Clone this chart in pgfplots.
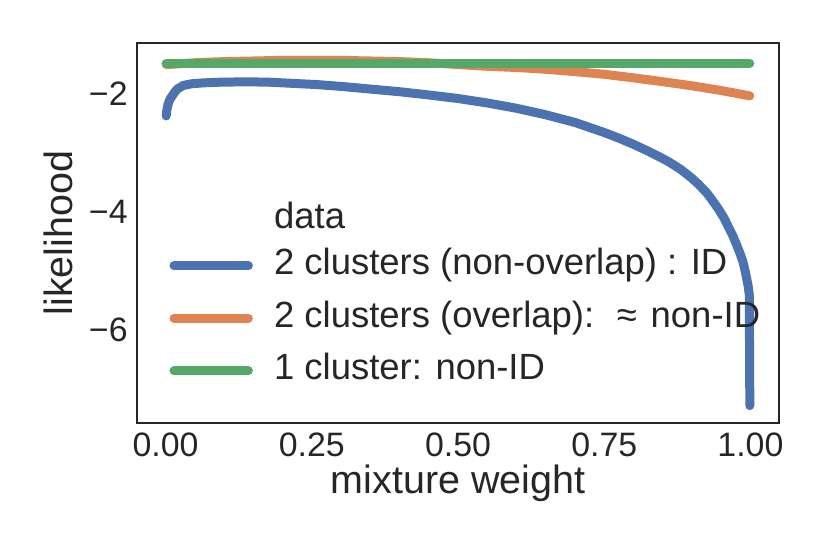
\documentclass[border=0pt]{standalone}
\usepackage{pgfplots}
\pgfplotsset{compat=1.18}
\usepackage{fontspec}
\setmainfont{Liberation Sans}
\definecolor{textc}{HTML}{262626}
\definecolor{sblue}{HTML}{4C72B0}
\definecolor{sorange}{HTML}{DD8452}
\definecolor{sgreen}{HTML}{55A868}
\begin{document}
\begin{tikzpicture}
\begin{axis}[
  width=321bp, height=190bp, scale only axis,
  clip=false,
  xmin=-0.0489, xmax=1.0489, ymin=-7.575, ymax=-1.146,
  axis line style={draw=textc, line width=1.25bp},
  tick style={draw=none}, major tick length=0pt,
  xtick={0,0.25,0.5,0.75,1}, xticklabels={0.00,0.25,0.50,0.75,1.00},
  ytick={-6,-4,-2}, yticklabels={−6,−4,−2},
  xticklabel style={font=\fontsize{17}{20}\selectfont, text=textc, inner sep=0pt, anchor=north, yshift=-4.5bp},
  yticklabel style={font=\fontsize{17}{20}\selectfont, text=textc, inner sep=0pt, anchor=east, xshift=-4.5bp},
  every axis x label/.style={at={(axis description cs:0.5,-0.185)}, anchor=base, inner sep=0pt, font=\fontsize{19.8}{23}\selectfont, text=textc},
  every axis y label/.style={at={(axis description cs:-0.1012,0.5)}, rotate=90, anchor=base, inner sep=0pt, font=\fontsize{19.8}{23}\selectfont, text=textc},
  xlabel={mixture weight}, ylabel={likelihood},
  legend cell align=left,
  legend style={at={(axis description cs:0.0506,0.5971)}, anchor=north west, draw=none, fill=none,
    inner sep=0pt, outer sep=0pt, row sep=9.3bp, column sep=10.6bp,
    font=\fontsize{18.3}{21}\selectfont, text=textc,
    nodes={inner sep=0pt, text height=13bp, text depth=4bp}},
  legend image code/.code={\draw[#1, line cap=round] (0bp,0bp) -- (37.2bp,0bp);},
]
\path (rel axis cs:-0.2134,-0.3447) rectangle (rel axis cs:1.0794,1.1132);
\addlegendimage{empty legend}
\addlegendentry{\raisebox{-3bp}[13bp][4bp]{data}}
\addplot[sblue, line width=4.5bp, line cap=round, line join=round] coordinates {
(0.001,-2.38) (0.002,-2.29) (0.004,-2.19) (0.006,-2.13) (0.008,-2.09) (0.010,-2.06)
(0.015,-1.985) (0.020,-1.925) (0.030,-1.865) (0.045,-1.835) (0.065,-1.82)
(0.090,-1.81) (0.120,-1.805) (0.145,-1.803) (0.180,-1.81) (0.220,-1.83)
(0.260,-1.85) (0.300,-1.88) (0.350,-1.925) (0.400,-1.97) (0.450,-2.025)
(0.500,-2.085) (0.550,-2.16) (0.600,-2.25) (0.650,-2.36) (0.700,-2.49)
(0.750,-2.66) (0.775,-2.755) (0.800,-2.86) (0.825,-2.975) (0.850,-3.10)
(0.860,-3.155) (0.870,-3.215) (0.880,-3.28) (0.890,-3.355) (0.900,-3.435)
(0.910,-3.525) (0.920,-3.625) (0.926,-3.69) (0.935,-3.81) (0.945,-3.95)
(0.955,-4.11) (0.963,-4.27) (0.970,-4.41) (0.976,-4.55) (0.982,-4.70)
(0.987,-4.84) (0.990,-4.96) (0.993,-5.10) (0.996,-5.25) (0.998,-5.40)
(0.999,-7.28)
};
\addlegendentry{2 clusters (non-overlap) : ID}
\addplot[sorange, line width=4.5bp, line cap=round, line join=round] coordinates {
(0.001,-1.51) (0.02,-1.50) (0.05,-1.48) (0.10,-1.46) (0.15,-1.45)
(0.20,-1.44) (0.25,-1.44) (0.30,-1.44) (0.35,-1.45) (0.40,-1.46)
(0.45,-1.48) (0.50,-1.51) (0.55,-1.54) (0.60,-1.56) (0.65,-1.59)
(0.70,-1.63) (0.75,-1.675) (0.80,-1.735) (0.85,-1.80) (0.90,-1.87)
(0.95,-1.95) (0.999,-2.04)
};
\addlegendentry{2 clusters (overlap):\hspace{0.62em}≈\hspace{0.38em}non-ID}
\addplot[sgreen, line width=4.5bp, line cap=round, line join=round] coordinates {
(0.001,-1.49) (0.25,-1.49) (0.50,-1.49) (0.75,-1.49) (0.999,-1.49)
};
\addlegendentry{1 cluster: non-ID}
\end{axis}
\end{tikzpicture}
\end{document}
